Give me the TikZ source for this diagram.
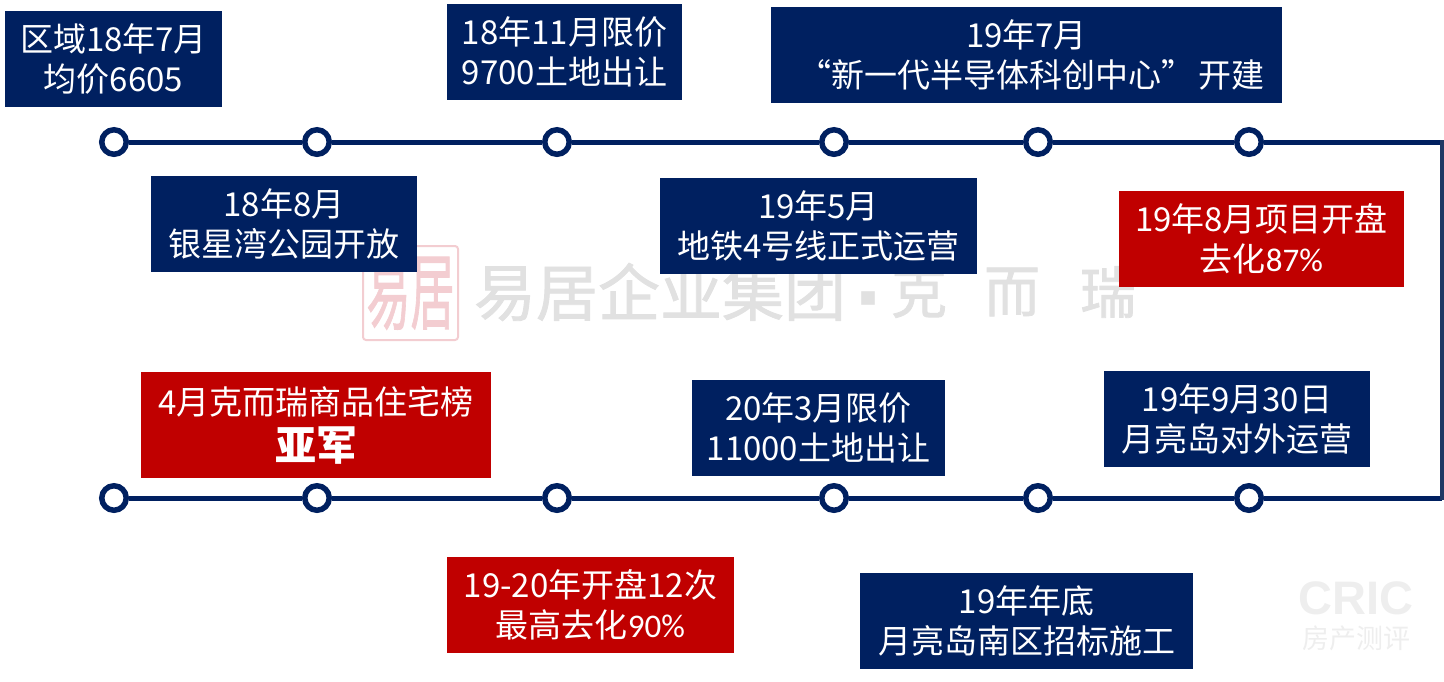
\documentclass[tikz,border=0pt]{standalone}
\usepackage{fontspec}
\setmainfont{Noto Sans CJK SC}
\newfontfamily\cricfont{Liberation Sans}
\newfontfamily\narrowfont{Carlito}
\newfontfamily\markfont[FakeBold=1.4]{Noto Sans CJK SC}
\usetikzlibrary{positioning}
\definecolor{navyfill}{HTML}{002060}
\definecolor{railside}{HTML}{1F3864}
\definecolor{redfill}{HTML}{C00000}
\definecolor{markgray}{HTML}{E1E1E1}
\definecolor{sealpink}{HTML}{F3CDD1}
\definecolor{cricgray}{HTML}{EEEEEE}

\begin{document}
\begin{tikzpicture}[x=1pt, y=-1pt,
    boxtext/.style={text=white, font=\fontsize{33}{40}\selectfont, align=center, inner sep=0pt, anchor=center},
    navybox/.style={boxtext, fill=navyfill},
    redbox/.style={boxtext, fill=redfill},
    dot/.style={circle, draw=navyfill, line width=5.5pt, fill=white, minimum size=24.5pt, inner sep=0pt},
    rail/.style={draw=navyfill, line width=5pt},
    markword/.style={text=markgray, font=\markfont\fontsize{56}{56}\selectfont, inner sep=0pt}]
    \useasboundingbox (0,0) rectangle (1444,681);

    % watermark first, boxes go over it
    \node[draw=sealpink, line width=2pt, rounded corners=3pt, minimum width=95pt, minimum height=94pt, inner sep=0pt] (seal) at (410.5,293) {};
    \node[text=sealpink, font=\markfont\fontsize{44}{44}\selectfont, yscale=1.9, inner sep=0pt] (sealtext) at (seal.center) {易居};
    \node[markword, font=\markfont\fontsize{62}{62}\selectfont] (markname) at (660,292) {易居企业集团};
    \node[markword, font=\fontsize{50}{50}\selectfont] (markdot) at (868,305) {▪};
    \node[markword] (markke) at (919,292) {克};
    \node[markword] (markerr) at (1012,292) {而};
    \node[markword] (markrui) at (1108,292) {瑞};
    \node[text=cricgray, font=\cricfont\bfseries\fontsize{47}{47}\selectfont, inner sep=0pt] (cric) at (1356,598) {CRIC};
    \node[text=cricgray, font=\fontsize{27}{27}\selectfont, inner sep=0pt] (cricname) at (1356,638) {房产测评};

    % timeline
    \foreach \i/\x in {1/114, 2/317, 3/557, 4/834, 5/1038, 6/1249} {
        \node[dot] (t\i) at (\x,142) {};
        \node[dot] (b\i) at (\x,498) {};
    }
    \coordinate (tr) at (1441.5,142);
    \coordinate (br) at (1441.5,498);
    \draw[rail] (t1) -- (t2);
    \draw[rail] (t2) -- (t3);
    \draw[rail] (t3) -- (t4);
    \draw[rail] (t4) -- (t5);
    \draw[rail] (t5) -- (t6);
    \draw[rail] (t6) -- (tr);
    \draw[rail] (b1) -- (b2);
    \draw[rail] (b2) -- (b3);
    \draw[rail] (b3) -- (b4);
    \draw[rail] (b4) -- (b5);
    \draw[rail] (b5) -- (b6);
    \draw[rail] (b6) -- (br);
    \draw[rail, draw=railside, line width=4pt, line cap=rect] (tr) -- (br);

    % upper row
    \node[navybox, minimum width=217pt, minimum height=96pt] (avg) at (113.5,59) {区域18年7月\\均价6605};
    \node[navybox, minimum width=266pt, minimum height=96pt] (park) at (284,224) {18年8月\\银星湾公园开放};
    \node[navybox, minimum width=235pt, minimum height=96pt] (land) at (564.5,52) {18年11月限价\\9700土地出让};
    \node[navybox, minimum width=317pt, minimum height=96pt] (metro) at (818.5,226) {19年5月\\地铁4号线正式运营};
    \node[navybox, minimum width=511pt, minimum height=96pt] (center) at (1026.5,55) {19年7月\\\hspace*{10pt}“新一代半导体科创中心”\hspace{5pt}开建};
    \node[redbox, minimum width=285pt, minimum height=96pt] (open) at (1261.5,239) {19年8月项目开盘\\去化{\narrowfont 87\%}};

    % lower row
    \node[redbox, minimum width=350pt, minimum height=106pt] (rank) at (316,425) {4月克而瑞商品住宅榜\\[6pt]{\bfseries\fontsize{41}{40}\selectfont 亚军}};
    \node[navybox, minimum width=253pt, minimum height=96pt] (land2) at (818.5,428) {20年3月限价\\11000土地出让};
    \node[navybox, minimum width=266pt, minimum height=96pt] (island) at (1237,419) {19年9月30日\\月亮岛对外运营};
    \node[redbox, minimum width=287pt, minimum height=96pt] (sales) at (590.5,605) {19-20年开盘12次\\最高去化{\narrowfont 90\%}};
    \node[navybox, minimum width=333pt, minimum height=96pt] (south) at (1026.5,621) {19年年底\\月亮岛南区招标施工};
\end{tikzpicture}
\end{document}
